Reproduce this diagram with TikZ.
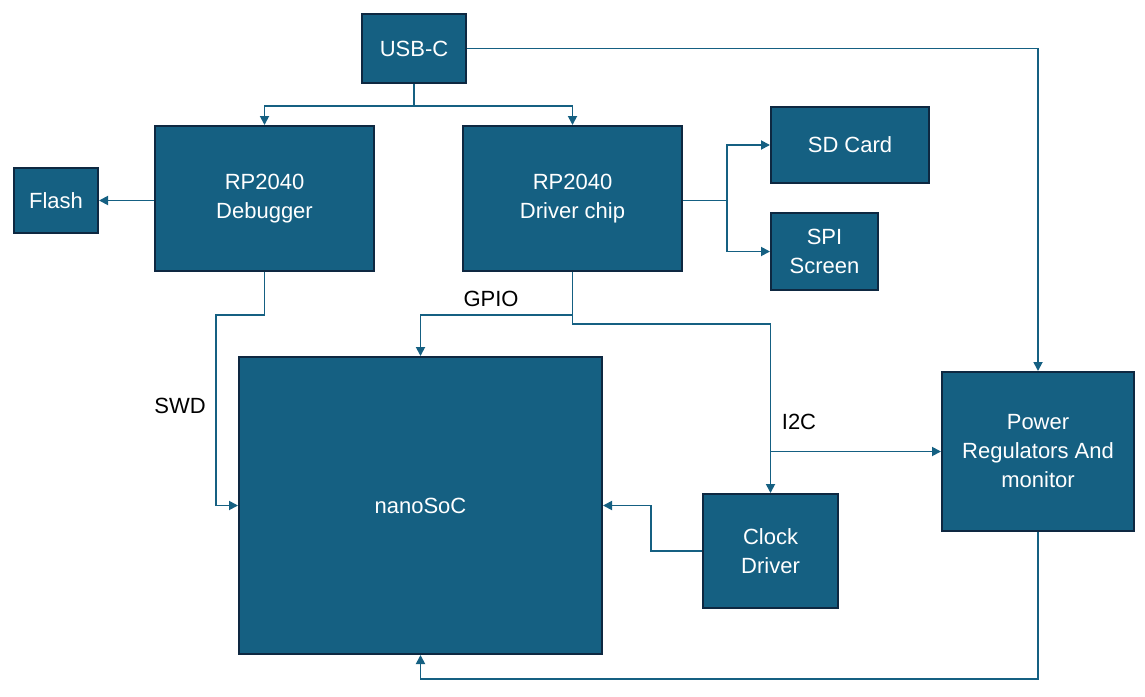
\documentclass[tikz,border=0pt]{standalone}
\usepackage{fontspec}
\setmainfont{Liberation Sans}
\usetikzlibrary{arrows.meta,calc}
\definecolor{boxfill}{HTML}{156082}
\definecolor{boxline}{HTML}{0E2841}
\definecolor{wire}{HTML}{156082}

\begin{document}
\begin{tikzpicture}[x=1pt, y=-1pt,
  block/.style={draw=boxline, line width=2pt, fill=boxfill, text=white, align=center,
    font=\fontsize{22}{29}\selectfont, inner sep=0pt},
  link/.style={draw=wire, line width=1.8pt, -{Triangle[length=9pt, width=9pt]}},
  wirelabel/.style={font=\fontsize{22}{29}\selectfont, text=black}]
  \useasboundingbox (0,0) rectangle (1145,696);

  % Blocks
  \node[block, minimum width=104, minimum height=69] (usb) at (414,48.5) {USB-C};
  \node[block, minimum width=219, minimum height=145] (dbg) at (264.5,198.5) {RP2040\\Debugger};
  \node[block, minimum width=84, minimum height=65] (flash) at (56,200.5) {Flash};
  \node[block, minimum width=219, minimum height=145] (drv) at (572.5,198.5) {RP2040\\Driver chip};
  \node[block, minimum width=158, minimum height=76] (sd) at (850,145) {SD Card};
  \node[block, minimum width=107, minimum height=77] (spi) at (824.5,251.5) {SPI\\Screen};
  \node[block, minimum width=363, minimum height=297] (soc) at (420.5,505.5) {nanoSoC};
  \node[block, minimum width=135, minimum height=114] (clk) at (770.5,551) {Clock\\Driver};
  \node[block, minimum width=192, minimum height=159] (pwr) at (1038,451.5) {Power\\Regulators And\\monitor};

  % USB-C feeds
  \coordinate (usbsplit) at ($(usb.south)+(0,22)$);
  \draw[link] (usb.south) -- (usbsplit) -| (dbg.north);
  \draw[link] (usbsplit) -| (drv.north);
  \draw[link] (usb.east) -| (pwr.north);

  % Debugger
  \draw[link] (flash.east -| dbg.west) -- (flash.east);
  \coordinate (swdbend) at (216,315);
  \draw[link] (dbg.south) |- (swdbend) |- (soc.west);
  \node[wirelabel] (swd) at (180,406) {SWD};

  % Driver chip
  \coordinate (drvsplit) at ($(drv.east)+(44,2)$);
  \draw[link] (drvsplit -| drv.east) -- (drvsplit) |- (sd.west);
  \draw[link] (drvsplit) |- (spi.west);
  \draw[link] (drv.south) -- ++(0,43) -| (soc.north);
  \node[wirelabel] (gpio) at (491,299) {GPIO};
  \draw[link] (drv.south) -- ++(0,52) -| (clk.north);
  \coordinate (i2cjoin) at (clk.north |- pwr.west);
  \draw[link] (i2cjoin) -- (pwr.west);
  \node[wirelabel] (i2c) at (799,422) {I2C};

  % Clock and power into nanoSoC
  \draw[link] (clk.west) -- ++(-51,0) |- (soc.east);
  \draw[link] (pwr.south) -- ++(0,147) -| (soc.south);

\end{tikzpicture}
\end{document}
